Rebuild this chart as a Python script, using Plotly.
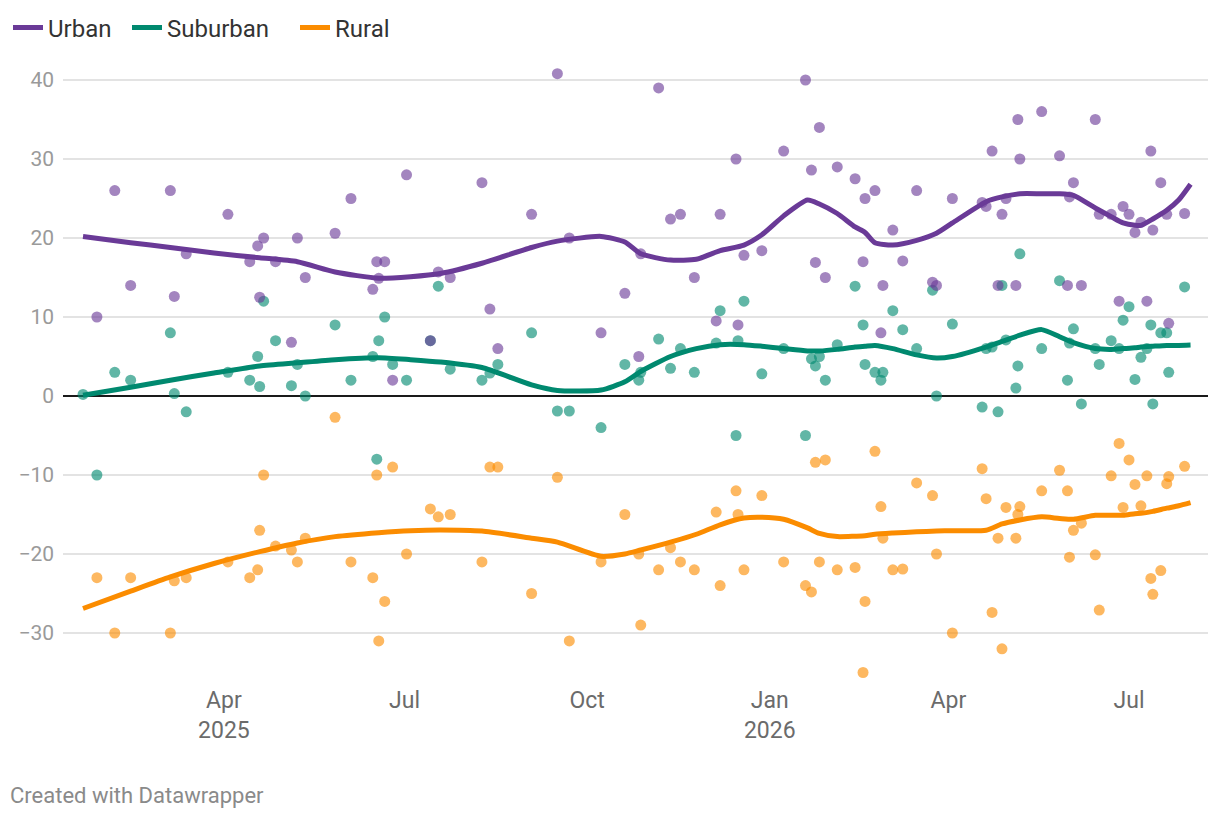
import plotly.graph_objects as go

# ---- poll data (each poll reports all three groups) ----
poll_dates = [
    "2025-01-20", "2025-01-27", "2025-02-05", "2025-02-13", "2025-03-05", "2025-03-07", "2025-03-13",
    "2025-04-03", "2025-04-14", "2025-04-18", "2025-04-19", "2025-04-21", "2025-04-27", "2025-05-05",
    "2025-05-08", "2025-05-12", "2025-05-27", "2025-06-04", "2025-06-15", "2025-06-17", "2025-06-18",
    "2025-06-21", "2025-06-25", "2025-07-02", "2025-07-14", "2025-07-18", "2025-07-24", "2025-08-09",
    "2025-08-13", "2025-08-17", "2025-09-03", "2025-09-16", "2025-09-22", "2025-10-08", "2025-10-20",
    "2025-10-27", "2025-10-28", "2025-11-06", "2025-11-12", "2025-11-17", "2025-11-24", "2025-12-05",
    "2025-12-07", "2025-12-15", "2025-12-16", "2025-12-19", "2025-12-28", "2026-01-08", "2026-01-19",
    "2026-01-22", "2026-01-24", "2026-01-26", "2026-01-29", "2026-02-04", "2026-02-13", "2026-02-17",
    "2026-02-18", "2026-02-23", "2026-02-26", "2026-02-27", "2026-03-04", "2026-03-09", "2026-03-16",
    "2026-03-24", "2026-03-26", "2026-04-03", "2026-04-18", "2026-04-20", "2026-04-23", "2026-04-26",
    "2026-04-28", "2026-04-30", "2026-05-05", "2026-05-06", "2026-05-07", "2026-05-18", "2026-05-27",
    "2026-05-31", "2026-06-01", "2026-06-03", "2026-06-07", "2026-06-14", "2026-06-16", "2026-06-22",
    "2026-06-26", "2026-06-28", "2026-07-01", "2026-07-04", "2026-07-07", "2026-07-10", "2026-07-12",
    "2026-07-13", "2026-07-17", "2026-07-20", "2026-07-21", "2026-07-29",
]
urban_polls = [
    None, 10, 26, 14, 26, 12.6, 18,
    23, 17, 19, 12.5, 20, 17, 6.8,
    20, 15, 20.6, 25, 13.5, 17, 14.9,
    17, 2, 28, 7, 15.7, 15, 27,
    11, 6, 23, 40.8, 20, 8, 13,
    5, 18, 39, 22.4, 23, 15, 9.5,
    23, 30, 9, 17.8, 18.4, 31, 40,
    28.6, 16.9, 34, 15, 29, 27.5, 17,
    25, 26, 8, 14, 21, 17.1, 26,
    14.4, 14, 25, 24.5, 24, 31, 14,
    23, 25, 14, 35, 30, 36, 30.4,
    14, 25.2, 27, 14, 35, 23, 23,
    12, 24, 23, 20.7, 22, 12, 31,
    21, 27, 23, 9.2, 23.1,
]
suburban_polls = [
    0.2, -10, 3, 2, 8, 0.3, -2,
    3, 2, 5, 1.2, 12, 7, 1.3,
    4, 0, 9, 2, 5, -8, 7,
    10, 4, 2, 7, 13.9, 3.4, 2,
    2.9, 4, 8, -1.9, -1.9, -4, 4,
    2, 3, 7.2, 3.5, 6, 3, 6.7,
    10.8, -5, 7, 12, 2.8, 6, -5,
    4.7, 3.8, 5, 2, 6.5, 13.9, 9,
    4, 3, 2, 3, 10.8, 8.4, 6,
    13.4, 0, 9.1, -1.4, 6, 6.2, -2,
    14, 7.1, 1, 3.8, 18, 6, 14.6,
    2, 6.7, 8.5, -1, 6, 4, 7,
    6, 9.6, 11.3, 2.1, 4.9, 6, 9,
    -1, 8, 8, 3, 13.8,
]
rural_polls = [
    None, -23, -30, -23, -30, -23.4, -23,
    -21, -23, -22, -17, -10, -19, -19.5,
    -21, -18, -2.7, -21, -23, -10, -31,
    -26, -9, -20, -14.3, -15.3, -15, -21,
    -9, -9, -25, -10.3, -31, -21, -15,
    -20, -29, -22, -19.2, -21, -22, -14.7,
    -24, -12, -15, -22, -12.6, -21, -24,
    -24.8, -8.4, -21, -8.1, -22, -21.7, -35,
    -26, -7, -14, -18, -22, -21.9, -11,
    -12.6, -20, -30, -9.2, -13, -27.4, -18,
    -32, -14.1, -18, -15, -14, -12, -9.4,
    -12, -20.4, -17, -16.1, -20.1, -27.1, -10.1,
    -6, -14.1, -8.1, -11.2, -13.9, -10.1, -23.1,
    -25.1, -22.1, -11.1, -10.2, -8.9,
]

# ---- smoothed trend lines ----
trend_dates = [
    "2025-01-20", "2025-02-13", "2025-03-05", "2025-03-27", "2025-04-19", "2025-05-08", "2025-05-27",
    "2025-06-18", "2025-07-04", "2025-07-19", "2025-08-09", "2025-09-03", "2025-09-16", "2025-10-08",
    "2025-10-20", "2025-10-28", "2025-11-12", "2025-11-25", "2025-12-07", "2025-12-19", "2025-12-28",
    "2026-01-08", "2026-01-20", "2026-01-26", "2026-02-04", "2026-02-13", "2026-02-18", "2026-02-23",
    "2026-03-04", "2026-03-16", "2026-03-26", "2026-04-03", "2026-04-20", "2026-04-28", "2026-05-07",
    "2026-05-18", "2026-05-27", "2026-06-03", "2026-06-14", "2026-06-22", "2026-06-28", "2026-07-04",
    "2026-07-07", "2026-07-13", "2026-07-20", "2026-07-26", "2026-08-01",
]
urban_trend = [
    20.2, 19.4, 18.8, 18.1, 17.5, 17.0, 15.7,
    14.9, 15.1, 15.5, 16.8, 18.8, 19.6, 20.2,
    19.5, 18.0, 17.2, 17.3, 18.4, 19.1, 20.4,
    22.8, 24.8, 24.3, 23.1, 21.4, 20.7, 19.4,
    19.1, 19.7, 20.6, 21.9, 24.6, 25.2, 25.6,
    25.6, 25.6, 25.4, 23.8, 22.7, 21.9, 21.6,
    21.6, 22.4, 23.5, 24.8, 26.8,
]
suburban_trend = [
    0.1, 1.1, 2.0, 2.9, 3.8, 4.2, 4.6,
    4.85, 4.6, 4.3, 3.6, 1.4, 0.7, 0.76,
    1.8, 3.1, 5.0, 6.0, 6.5, 6.5, 6.3,
    6.0, 5.7, 5.7, 5.9, 6.2, 6.3, 6.4,
    6.0, 5.2, 4.8, 5.0, 6.2, 6.9, 7.7,
    8.4, 7.5, 6.75, 6.0, 5.9, 6.0, 6.1,
    6.2, 6.3, 6.4, 6.4, 6.45,
]
rural_trend = [
    -26.9, -24.7, -22.9, -21.2, -19.7, -18.6, -17.8,
    -17.3, -17.05, -16.96, -17.1, -18.0, -18.5, -20.3,
    -20.0, -19.5, -18.5, -17.5, -16.3, -15.45, -15.35,
    -15.6, -16.7, -17.4, -17.8, -17.75, -17.7, -17.5,
    -17.35, -17.2, -17.1, -17.05, -17.0, -16.2, -15.7,
    -15.3, -15.5, -15.6, -15.1, -15.1, -15.1, -14.9,
    -14.85, -14.6, -14.2, -13.9, -13.5,
]

series_names = ["Urban", "Suburban", "Rural"]
line_colors = ["#6a3a97", "#00896f", "#fb8c00"]
legend_ids = ["legend", "legend2", "legend3"]
legend_x_px = [0, 119, 287]

x_tickvals = ["2025-04-01", "2025-07-01", "2025-10-01", "2026-01-01", "2026-04-01", "2026-07-01"]
x_ticktext = ["Apr<br>2025", "Jul", "Oct", "Jan<br>2026", "Apr", "Jul"]
y_tickvals = [-30, -20, -10, 0, 10, 20, 30, 40]
y_ticktext = ["\u221230", "\u221220", "\u221210", "0", "10", "20", "30", "40"]

FONT = "Roboto"
W, H = 1220, 820
ML, MR, MT, MB = 55, 20, 52, 148
PW, PH = W - ML - MR, H - MT - MB

fig = go.Figure()

# dots: rural first, urban last (urban dots sit on top)
poll_series = [urban_polls, suburban_polls, rural_polls]
for i in [2, 1, 0]:
    fig.add_trace(go.Scatter(
        x=poll_dates, y=poll_series[i], mode="markers", name=series_names[i], showlegend=False,
        marker=dict(size=11, color=line_colors[i], opacity=0.62, line=dict(width=0)),
        hoverinfo="skip",
    ))

for name, color, vals, lg in zip(series_names, line_colors,
                                 [urban_trend, suburban_trend, rural_trend], legend_ids):
    fig.add_trace(go.Scatter(
        x=trend_dates, y=vals, mode="lines", name=name, legend=lg,
        line=dict(color=color, width=5, shape="spline", smoothing=0.6),
    ))

legend_common = dict(
    orientation="h", xref="container", yref="container",
    y=1 - 20 / H, xanchor="left", yanchor="middle",
    font=dict(family=FONT, size=24, color="#333333"),
    bgcolor="rgba(0,0,0,0)", itemclick=False, itemdoubleclick=False,
)
legend_layout = {}
for lg, xpx in zip(legend_ids, legend_x_px):
    legend_layout[lg] = dict(legend_common, x=xpx / W)

fig.update_layout(
    width=W, height=H,
    margin=dict(l=ML, r=MR, t=MT, b=MB, autoexpand=False),
    paper_bgcolor="white", plot_bgcolor="white",
    font=dict(family=FONT, size=22, color="#333333"),
    showlegend=True,
    xaxis=dict(
        type="date", automargin=False,
        range=["2025-01-09 22:00", "2026-08-09 19:00"],
        tickvals=x_tickvals, ticktext=x_ticktext,
        showgrid=False, zeroline=False, showline=False, ticks="",
        tickfont=dict(family=FONT, size=23, color="#6b6b6b"),
        ticklabelstandoff=4,
    ),
    yaxis=dict(
        automargin=False,
        range=[-35.95, 42.53],
        tickvals=y_tickvals, ticktext=y_ticktext,
        showgrid=True, gridcolor="#e3e3e3", gridwidth=1.5,
        zeroline=True, zerolinecolor="#1a1a1a", zerolinewidth=2,
        showline=False, ticks="",
        tickfont=dict(family=FONT, size=21, color="#9a9a9a"),
        ticklabelstandoff=8,
    ),
    annotations=[dict(
        text="Created with Datawrapper", xref="paper", yref="paper",
        x=-ML / PW, y=(PH - (787 - MT)) / PH, xanchor="left", yanchor="middle",
        showarrow=False, font=dict(family=FONT, size=22, color="#8a8a8a"),
    )],
    **legend_layout,
)

fig.write_html("out.html")
